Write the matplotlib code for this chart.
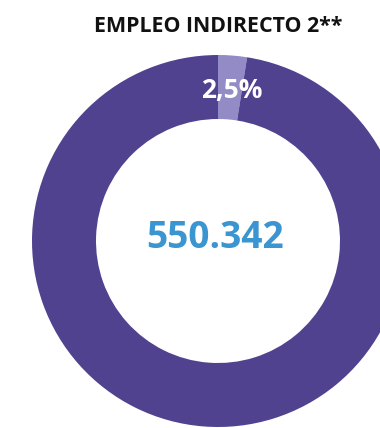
import matplotlib.pyplot as plt

# share of indirect employment (percent) and total jobs
labels = ["Indirecto", "Resto"]
shares = [2.5, 97.5]
share_label = "2,5%"
total_label = "550.342"
title = "EMPLEO INDIRECTO 2**"

colors = ["#928bc5", "#514290"]

plt.rcParams['font.family'] = ['Open Sans', 'DejaVu Sans']

fig = plt.figure(figsize=(3.8, 4.28), dpi=100)
ax = fig.add_axes([0, 0, 1, 1])

cx, cy, r_out, ring = 218, 187, 186, 64
ax.pie(shares, colors=colors, startangle=90, counterclock=False,
       center=(cx, cy), radius=r_out, frame=True,
       wedgeprops=dict(width=ring, linewidth=0))
ax.set_xlim(0, 380)
ax.set_ylim(0, 428)
ax.set_aspect('equal')
ax.axis('off')

ax.text(232, 338, share_label, color='white', fontsize=19, fontweight='bold',
        ha='center', va='center')
ax.text(215.5, 190, total_label, color='#3a95d0', fontsize=26.7, fontweight='bold',
        ha='center', va='center')
fig.text(218 / 380, 1 - 26 / 428, title, fontsize=15.4, fontweight='bold',
         ha='center', va='center', color='#111111')

fig.savefig("out.png", dpi=100)
